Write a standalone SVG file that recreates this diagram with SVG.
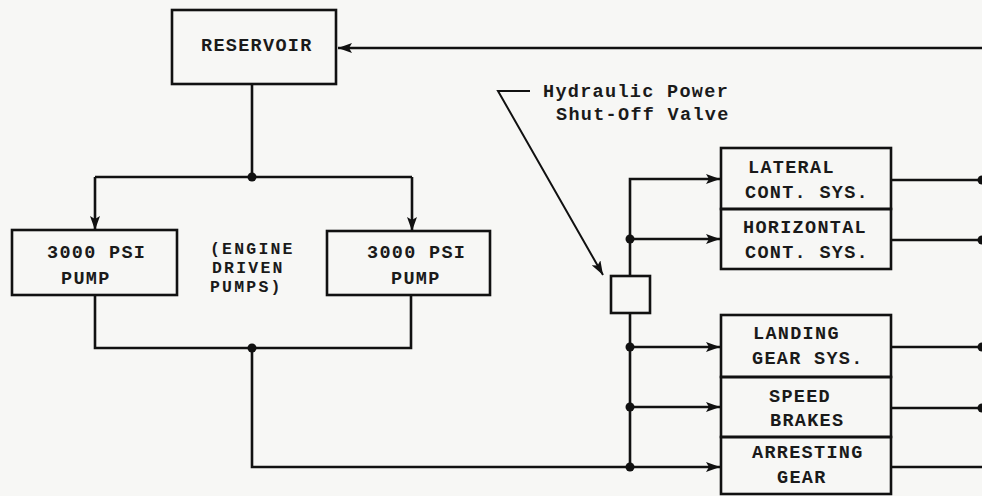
<svg xmlns="http://www.w3.org/2000/svg" width="982" height="496" viewBox="0 0 982 496">
<defs>
<style>
.bg{fill:#f7f7f5}
.box{fill:none;stroke:#111;stroke-width:2.6}
.ln{fill:none;stroke:#111;stroke-width:2.6}
.thin{fill:none;stroke:#111;stroke-width:2}
.dot{fill:#111}
text{font-family:"Liberation Mono","Courier New",monospace;font-size:18.5px;letter-spacing:1.3px;font-weight:bold;fill:#1a1a1a}
.sm{font-size:16.5px;letter-spacing:2.2px}
</style>
<marker id="ah" viewBox="0 0 14 10" refX="14" refY="5" markerWidth="14" markerHeight="10" markerUnits="userSpaceOnUse" orient="auto">
<path d="M0,0 L14,5 L0,10 L3,5 Z" fill="#111"/>
</marker>
</defs>
<rect class="bg" x="0" y="0" width="982" height="496"/>

<g id="connectors">
<line class="ln" x1="982" y1="48" x2="338" y2="48" marker-end="url(#ah)"/>
<line class="ln" x1="252" y1="84" x2="252" y2="177"/>
<line class="ln" x1="95" y1="177" x2="412" y2="177"/>
<line class="ln" x1="95" y1="177" x2="95" y2="230" marker-end="url(#ah)"/>
<line class="ln" x1="412" y1="177" x2="412" y2="231" marker-end="url(#ah)"/>
<polyline class="ln" points="95,295 95,348 411,348 411,295"/>
<polyline class="ln" points="252,348 252,467 630,467"/>
<line class="ln" x1="630" y1="313" x2="630" y2="467"/>
<polyline class="ln" points="630,276 630,179 720,179" marker-end="url(#ah)"/>
<line class="ln" x1="630" y1="239" x2="720" y2="239" marker-end="url(#ah)"/>
<line class="ln" x1="630" y1="347" x2="720" y2="347" marker-end="url(#ah)"/>
<line class="ln" x1="630" y1="407" x2="720" y2="407" marker-end="url(#ah)"/>
<line class="ln" x1="630" y1="467" x2="720" y2="467" marker-end="url(#ah)"/>
<line class="ln" x1="891" y1="180" x2="982" y2="180"/>
<line class="ln" x1="891" y1="240" x2="982" y2="240"/>
<line class="ln" x1="891" y1="347" x2="982" y2="347"/>
<line class="ln" x1="891" y1="408" x2="982" y2="408"/>
<line class="ln" x1="891" y1="467" x2="982" y2="467"/>
<circle class="dot" cx="252" cy="177" r="4.5"/>
<circle class="dot" cx="252" cy="348" r="4.5"/>
<circle class="dot" cx="630" cy="239" r="4.5"/>
<circle class="dot" cx="630" cy="347" r="4.5"/>
<circle class="dot" cx="630" cy="407" r="4.5"/>
<circle class="dot" cx="630" cy="467" r="4.5"/>
<circle class="dot" cx="982" cy="180" r="4.5"/>
<circle class="dot" cx="982" cy="240" r="4.5"/>
<circle class="dot" cx="982" cy="347" r="4.5"/>
<circle class="dot" cx="982" cy="408" r="4.5"/>
<polyline class="thin" points="530,91 498,91 603,275" marker-end="url(#ah)"/>
</g>

<g id="reservoir">
<rect class="box" x="172" y="10" width="164" height="74"/>
<text x="201" y="51">RESERVOIR</text>
</g>

<g id="pump-left">
<rect class="box" x="12" y="230" width="165" height="65"/>
<text x="47" y="258">3000 PSI</text>
<text x="61" y="284">PUMP</text>
</g>

<g id="engine-label">
<text class="sm" x="210" y="254">(ENGINE</text>
<text class="sm" x="212" y="273">DRIVEN</text>
<text class="sm" x="210" y="292">PUMPS)</text>
</g>

<g id="pump-right">
<rect class="box" x="327" y="231" width="163" height="64"/>
<text x="367" y="258">3000 PSI</text>
<text x="391" y="284">PUMP</text>
</g>

<g id="valve">
<rect class="box" x="611" y="276" width="39" height="37"/>
</g>

<g id="valve-label">
<text x="543" y="97">Hydraulic Power</text>
<text x="556" y="120">Shut-Off Valve</text>
</g>

<g id="lateral">
<rect class="box" x="721" y="148" width="170" height="61"/>
<text x="748" y="173">LATERAL</text>
<text x="745" y="198">CONT. SYS.</text>
</g>

<g id="horizontal">
<rect class="box" x="721" y="209" width="170" height="60"/>
<text x="743" y="233">HORIZONTAL</text>
<text x="745" y="258">CONT. SYS.</text>
</g>

<g id="landing">
<rect class="box" x="721" y="315" width="170" height="62"/>
<text x="753" y="339">LANDING</text>
<text x="752" y="364">GEAR SYS.</text>
</g>

<g id="speed-brakes">
<rect class="box" x="721" y="377" width="170" height="60"/>
<text x="769" y="402">SPEED</text>
<text x="770" y="426">BRAKES</text>
</g>

<g id="arresting">
<rect class="box" x="721" y="437" width="170" height="57"/>
<text x="752" y="458">ARRESTING</text>
<text x="777" y="483">GEAR</text>
</g>
</svg>
